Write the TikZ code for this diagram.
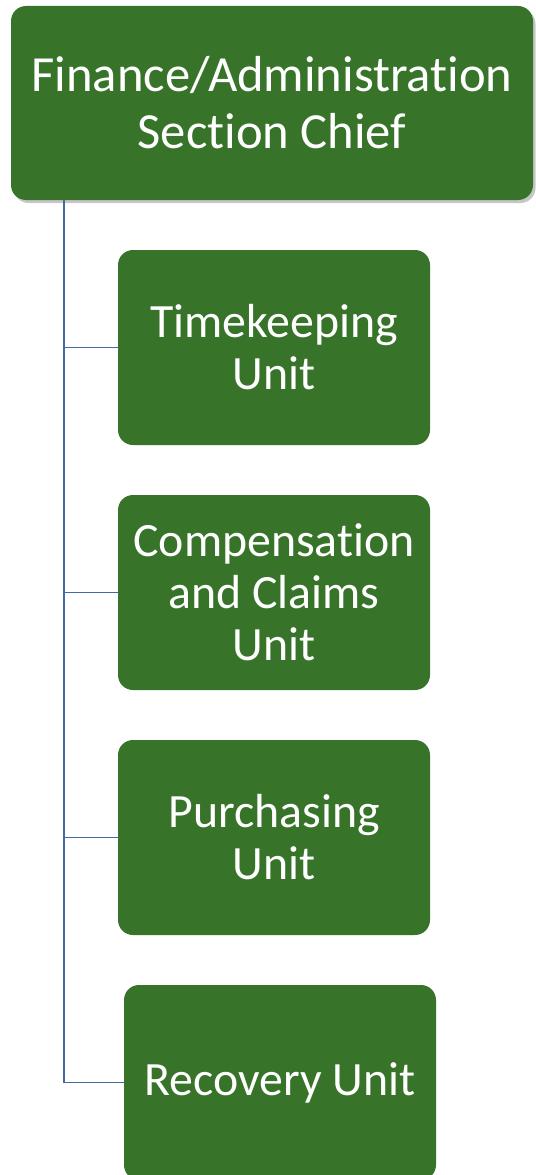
\documentclass[tikz,border=0pt]{standalone}
\usepackage{fontspec}
\setmainfont[Ligatures={NoCommon}]{Carlito}
\usetikzlibrary{shadows}
\definecolor{unitgreen}{RGB}{55,116,42}
\definecolor{linkblue}{RGB}{68,104,164}
\begin{document}
\begin{tikzpicture}[unit/.style={draw=none, fill=unitgreen, rounded corners=0.3cm, text=white, align=center, font=\fontsize{27.2}{29.6}\selectfont, minimum width=6.24cm, minimum height=3.9cm},
  chiefbox/.style={unit, minimum width=10.44cm, minimum height=3.88cm, font=\fontsize{28.8}{32.5}\selectfont, drop shadow={shadow xshift=0.05cm, shadow yshift=-0.06cm, opacity=0.45}},
  link/.style={draw=linkblue, line width=0.8pt}]
    \useasboundingbox (0,0) rectangle (10.7,-23.5);
    \node[chiefbox] (chief) at (5.44, -2.06) {Finance/Administration\\Section Chief};
    \node[unit] (timekeeping) at (5.48, -6.95) {Timekeeping\\Unit};
    \node[unit] (compensation) at (5.48, -11.85) {Compensation\\and Claims\\Unit};
    \node[unit] (purchasing) at (5.48, -16.75) {Purchasing\\Unit};
    \node[unit] (recovery) at (5.60, -21.65) {Recovery Unit};
    \coordinate (trunk) at (chief.south -| 1.28,0);

    \draw [link] (trunk) |- (timekeeping.west);
    \draw [link] (trunk) |- (compensation.west);
    \draw [link] (trunk) |- (purchasing.west);
    \draw [link] (trunk) |- (recovery.west);
\end{tikzpicture}
\end{document}
